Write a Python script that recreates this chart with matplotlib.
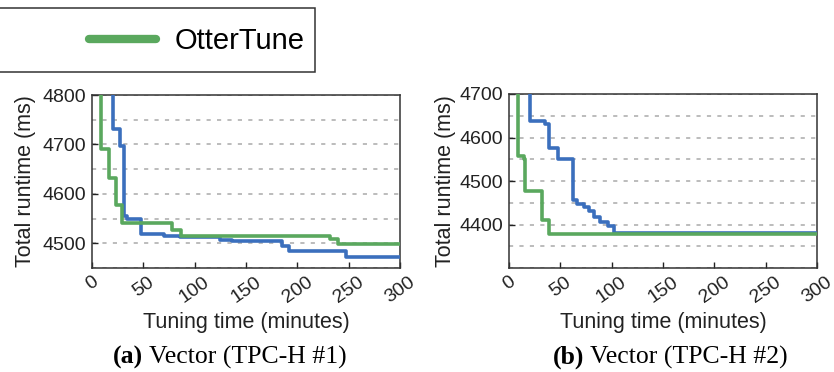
import matplotlib
matplotlib.use("Agg")
import matplotlib.pyplot as plt
from matplotlib.lines import Line2D
from matplotlib.patches import Rectangle
from matplotlib.ticker import MultipleLocator

plt.rcParams['font.family'] = ['Liberation Sans', 'DejaVu Sans']
plt.rcParams['lines.scale_dashes'] = False

# ---- data ----
x_ticks = [0, 50, 100, 150, 200, 250, 300]

a_blue_x = [0, 20, 27, 31, 34, 48, 70, 86, 125, 136, 185, 192, 247, 300]
a_blue_y = [4900, 4732, 4697, 4555, 4549, 4519, 4515, 4512, 4507, 4504, 4495, 4485, 4473, 4473]
a_green_x = [0, 9, 17, 23, 29, 78, 87, 232, 240, 300]
a_green_y = [4900, 4690, 4633, 4577, 4542, 4527, 4515, 4508, 4499, 4499]

b_blue_x = [0, 20, 35, 39, 48, 62, 66, 73, 78, 83, 89, 96, 102, 300]
b_blue_y = [4800, 4638, 4632, 4575, 4550, 4457, 4448, 4440, 4430, 4418, 4405, 4397, 4381, 4381]
b_green_x = [0, 9, 14.5, 15.5, 32.5, 39, 300]
b_green_y = [4800, 4557, 4550, 4478, 4410, 4378, 4378]

a_yticks = [4500, 4600, 4700, 4800]
b_yticks = [4400, 4500, 4600, 4700]
legend_label = "OtterTune"
captions = [("(a)", " Vector (TPC-H #1)"), ("(b)", " Vector (TPC-H #2)")]

BLUE = "#3b6fbd"
GREEN = "#5aa85e"

W, H = 834, 372
fig = plt.figure(figsize=(W / 100, H / 100), dpi=100)


def px_axes(x0, x1, ytop, ybot):
    return fig.add_axes([x0 / W, 1 - ybot / H, (x1 - x0) / W, (ybot - ytop) / H])


ax1 = px_axes(92, 400, 95, 268)
ax2 = px_axes(509, 817, 94, 268)

panels = [
    (ax1, a_blue_x, a_blue_y, a_green_x, a_green_y, (4450, 4800), a_yticks, 36, 92),
    (ax2, b_blue_x, b_blue_y, b_green_x, b_green_y, (4300, 4700), b_yticks, 456, 509),
]

for ax, bx, by, gx, gy, ylim, yt, ylab_x, axl in panels:
    ax.step(bx, by, where='post', color=BLUE, lw=2.6, zorder=3)
    ax.step(gx, gy, where='post', color=GREEN, lw=2.6, zorder=4)
    ax.set_xlim(0, 300)
    ax.set_ylim(*ylim)
    ax.set_xticks(x_ticks)
    ax.set_xticklabels([str(t) for t in x_ticks], rotation=35, ha='center')
    ax.set_yticks(yt)
    ax.yaxis.set_minor_locator(MultipleLocator(50))
    ax.grid(True, axis='y', which='both', color='#aaaaaa', lw=1.1,
            linestyle=(0, (3, 4.5)), zorder=1)
    ax.tick_params(axis='both', which='major', direction='in', length=4, width=1,
                   labelsize=14, pad=4, colors='#222222')
    ax.tick_params(axis='y', which='minor', length=0)
    for sp in ax.spines.values():
        sp.set_linewidth(1.1)
        sp.set_color('#333333')
    ax.set_xlabel("Tuning time (minutes)", fontsize=15.5, color='#222222')
    ax.set_ylabel("Total runtime (ms)", fontsize=15.5, color='#222222')
    ax.xaxis.set_label_coords(0.5, -(312 - 268) / 173)
    ax.xaxis.label.set_va('top')
    ax.yaxis.set_label_coords((ylab_x - axl) / 308, 0.5)

# legend box
fig.patches.append(Rectangle((-2 / W, 1 - 72 / H), 317 / W, 64 / H,
                             transform=fig.transFigure, fill=False,
                             edgecolor='#333333', lw=1.1))
handle = Line2D([], [], color=GREEN, lw=6, solid_capstyle='round')
fig.legend([handle], [legend_label], loc='center left',
           bbox_to_anchor=(89 / W, 1 - 41 / H), frameon=False,
           fontsize=21, handlelength=2.3, handletextpad=0.65,
           borderpad=0, borderaxespad=0)

# captions
fig.canvas.draw()
r = fig.canvas.get_renderer()
for (bold, rest), x0 in zip(captions, [113, 553]):
    t1 = fig.text(x0 / W, 1 - 357 / H, bold, fontsize=18.5, fontweight='bold',
                  family='Liberation Serif', ha='left', va='center')
    bb = t1.get_window_extent(renderer=r)
    fig.text(bb.x1 / W, 1 - 357 / H, rest, fontsize=18.5,
             family='Liberation Serif', ha='left', va='center')

fig.savefig("out.png", dpi=100)
